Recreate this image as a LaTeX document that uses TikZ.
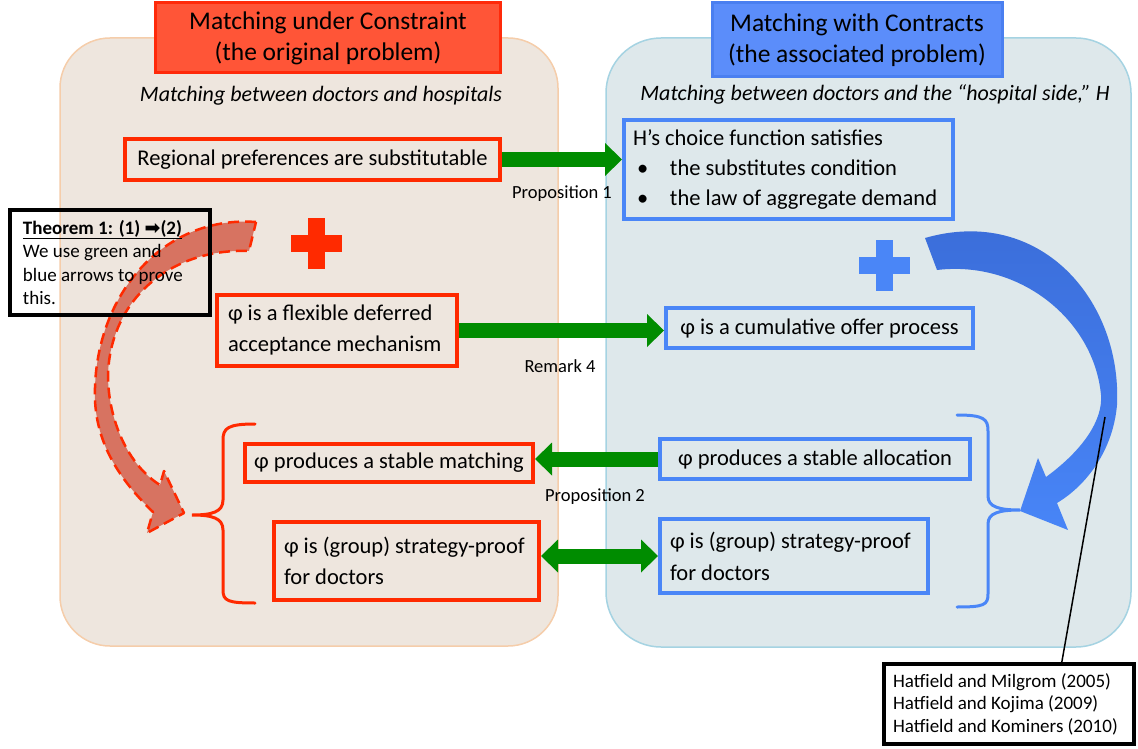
\documentclass[tikz,border=0pt]{standalone}
\usepackage{fontspec}
\setmainfont{Carlito}
\newfontfamily\symfont{DejaVu Sans}
\usetikzlibrary{arrows.meta,calc}

\definecolor{lbg}{HTML}{EEE6DE}
\definecolor{lbgline}{HTML}{F5CDAA}
\definecolor{rbg}{HTML}{DEE8EB}
\definecolor{rbgline}{HTML}{A5D3E2}
\definecolor{redln}{HTML}{FF2A00}
\definecolor{blueln}{HTML}{4A86F7}
\definecolor{grn}{HTML}{008C00}
\definecolor{ltitle}{HTML}{FF5537}
\definecolor{ltitleln}{HTML}{FF2A0A}
\definecolor{rtitle}{HTML}{5B8DFA}
\definecolor{rtitleln}{HTML}{4A7FF0}
\definecolor{redarrow}{HTML}{D66A57}
\definecolor{bluedark}{HTML}{3A6CD8}
\definecolor{bluelight}{HTML}{4885F7}

\newcommand\txtbody{\fontsize{22.5}{31}\selectfont}
\newcommand\txttitle{\fontsize{25.5}{31}\selectfont}
\newcommand\txtsmall{\fontsize{18.5}{22.5}\selectfont}

\begin{document}
\begin{tikzpicture}[x=1pt,y=-1pt,
  redbox/.style={draw=redln, line width=4pt, align=flush left, inner ysep=0pt, font=\txtbody},
  bluebox/.style={draw=blueln, line width=4pt, align=flush left, inner ysep=0pt, font=\txtbody},
  titlebox/.style={line width=3pt, align=center, inner ysep=0pt, font=\txttitle},
  subtitle/.style={font=\fontsize{22}{31}\selectfont\itshape, inner sep=0pt},
  lbl/.style={font=\txtsmall, inner sep=0pt},
  notebox/.style={draw=black, line width=4pt, align=flush left, inner ysep=0pt},
  garrow/.style={draw=grn, line width=15pt, -{Triangle[width=33pt,length=17pt,line width=0pt]}},
  gdarrow/.style={draw=grn, line width=15pt, {Triangle[width=33pt,length=17pt,line width=0pt]}-{Triangle[width=33pt,length=17pt,line width=0pt]}},
  brace/.style={line width=3pt, line cap=round}
]
\useasboundingbox (0,0) rectangle (1138,749);

% the two problem panels
\filldraw[fill=lbg, draw=lbgline, line width=1.5pt, rounded corners=50pt] (60,38) rectangle (558,646);
\filldraw[fill=rbg, draw=rbgline, line width=1.5pt, rounded corners=55pt] (606,38) rectangle (1131,647);

% panel titles
\node[titlebox, fill=ltitle, draw=ltitleln, minimum width=345pt, minimum height=70pt] (tl) at (328,38)
  {Matching under Constraint\\(the original problem)};
\node[titlebox, fill=rtitle, draw=rtitleln, minimum width=290pt, minimum height=74pt] (tr) at (857,40)
  {Matching with Contracts\\(the associated problem)};

\node[subtitle] (sl) at (321,96) {Matching between doctors and hospitals};
\node[subtitle] (sr) at (875,94) {Matching between doctors and the “hospital side,” H};

% statements on the original side
\node[redbox, minimum width=375pt, minimum height=41pt] (L1) at (312.5,159.5)
  {Regional preferences are substitutable};
\node[redbox, minimum width=240pt, minimum height=71pt, inner xsep=11pt, text width=218pt] (L2) at (337,330.5)
  {φ is a flexible deferred\\acceptance mechanism};
\node[redbox, minimum width=288pt, minimum height=38pt] (L3) at (389,463)
  {φ produces a stable matching};
\node[redbox, minimum width=265pt, minimum height=78pt, inner xsep=10pt, text width=245pt] (L4) at (406.5,561)
  {φ is (group) strategy-proof\\for doctors};

% statements on the associated side
\node[bluebox, minimum width=329pt, minimum height=99pt, inner xsep=9pt, text width=311pt,
  font=\fontsize{22.5}{30}\selectfont] (R1) at (788.5,169.5)
  {H’s choice function satisfies\\
   \makebox[37pt][l]{\hspace{4pt}•}the substitutes condition\\
   \makebox[37pt][l]{\hspace{4pt}•}the law of aggregate demand};
\node[bluebox, minimum width=307pt, minimum height=40pt] (R2) at (819.5,328)
  {φ is a cumulative offer process};
\node[bluebox, minimum width=310pt, minimum height=40pt] (R3) at (815,459)
  {φ produces a stable allocation};
\node[bluebox, minimum width=268pt, minimum height=74pt, inner xsep=10pt, text width=248pt,
  font=\fontsize{22.5}{32}\selectfont] (R4) at (794,556)
  {φ is (group) strategy-proof\\for doctors};

% green implications
\draw[garrow] (L1.east) -- (L1.east -| R1.west);
\draw[garrow] (L2.east) -- (L2.east -| R2.west);
\draw[garrow] (R3.west) -- (R3.west -| L3.east);
\draw[gdarrow] (R4.west -| L4.east) -- (R4.west);

\node[lbl] (p1) at (562,194) {Proposition 1};
\node[lbl] (r4) at (560,366) {Remark 4};
\node[lbl] (p2) at (595,497) {Proposition 2};

% braces grouping the conclusions
\draw[brace, redln] (255,424) .. controls (228,424) and (223,428) .. (223,440) -- (223,500)
  .. controls (223,512) and (212,515) .. (192,515) .. controls (212,515) and (223,518) .. (223,530)
  -- (223,590) .. controls (223,601) and (228,603) .. (255,603);
\draw[brace, blueln] (957,415) .. controls (984,415) and (988,419) .. (988,431) -- (988,496)
  .. controls (988,507) and (999,510) .. (1020,510) .. controls (999,510) and (988,513) .. (988,524)
  -- (988,594) .. controls (988,605) and (984,607) .. (957,607);

% plus signs
\fill[redln] (290.5,234.5) rectangle (341.5,251.5);
\fill[redln] (307.5,217.5) rectangle (324.5,268.5);
\fill[blueln] (858.5,256.5) rectangle (909.5,273.5);
\fill[blueln] (875.5,239.5) rectangle (892.5,290.5);

% curved arrow on the associated side
\shade[top color=bluedark, bottom color=bluelight]
  (925,238) .. controls (1040,205) and (1122,300) .. (1117,405)
  .. controls (1113,450) and (1087,485) .. (1057,503)
  -- (1068,530) -- (1020,511) -- (1038,458) -- (1046,477)
  .. controls (1083,450) and (1103,420) .. (1101,395)
  .. controls (1094,320) and (1020,260) .. (937,270) -- cycle;

% curved dashed arrow on the original side
\filldraw[fill=redarrow, fill opacity=0.92, draw=redln, line width=2.5pt, dash pattern=on 11pt off 6pt, line join=round]
  (256,222) .. controls (160,215) and (92,300) .. (95,400)
  .. controls (97,445) and (120,480) .. (153,512)
  -- (147,533) -- (184,513) -- (164,471) -- (160,485)
  .. controls (128,465) and (108,420) .. (108,375)
  .. controls (110,300) and (170,248) .. (249,251) -- cycle;

% theorem note
\node[notebox, minimum width=200pt, minimum height=105pt, inner xsep=13pt, text width=174pt,
  font=\fontsize{19}{23.5}\selectfont] (thm) at (110,262.5)
  {\underline{\textbf{Theorem 1: (1) {\symfont ➡}(2)}}\\We use green and\\blue arrows to prove\\this.};

% references
\coordinate (pin) at (1105,417);
\node[notebox, fill=white, minimum width=250pt, minimum height=80pt, inner xsep=9pt, text width=232pt,
  font=\fontsize{19}{22.5}\selectfont] (ref) at (1009,704)
  {Hatfield and Milgrom (2005)\\Hatfield and Kojima (2009)\\Hatfield and Kominers (2010)};
\draw[line width=1.5pt] (pin) -- ($(ref.north west)!0.708!(ref.north east)$);
\end{tikzpicture}
\end{document}
